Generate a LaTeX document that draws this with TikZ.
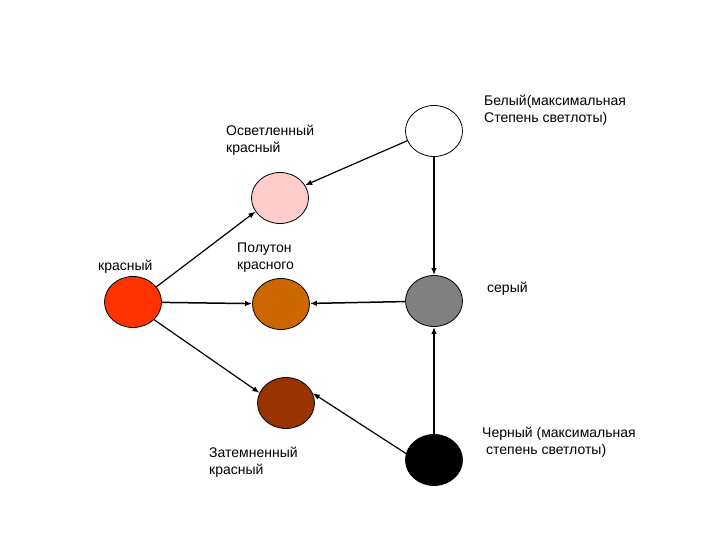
\documentclass[tikz,border=0pt]{standalone}
\usepackage{fontspec}
\setmainfont{Liberation Sans}
\usetikzlibrary{shapes.geometric,arrows.meta}
\definecolor{cpink}{HTML}{FFCCCC}
\definecolor{cred}{HTML}{FF3300}
\definecolor{corange}{HTML}{CC6600}
\definecolor{cgray}{HTML}{808080}
\definecolor{cbrown}{HTML}{993300}
\tikzset{
  dot/.style={ellipse,draw=black,line width=0.8pt,minimum width=57pt,minimum height=51pt,inner sep=0pt},
  arr/.style={line width=1.5pt,-{Latex[length=7pt,width=5.5pt]}},
  arrthin/.style={line width=1.2pt,-{Latex[length=7pt,width=5.5pt]}},
  lbl/.style={anchor=north west,align=left,inner sep=0pt,font=\fontsize{14}{16.5}\selectfont},
  lblb/.style={anchor=base west,inner sep=0pt,font=\fontsize{14}{16.5}\selectfont}
}
\begin{document}
\begin{tikzpicture}[x=1pt,y=-1pt]
\useasboundingbox[fill=white] (0,0) rectangle (720,540);
\node[dot,fill=white] (white) at (434,131) {};
\node[dot,fill=cpink] (pink) at (280,198) {};
\node[dot,fill=cred] (red) at (133,302) {};
\node[dot,fill=corange] (orange) at (281,304) {};
\node[dot,fill=cgray] (gray) at (434,301) {};
\node[dot,fill=cbrown] (brown) at (286,403) {};
\node[dot,fill=black] (black) at (434,460) {};

\draw[arrthin] (white.200) -- (pink.27);
\draw[arr] (white) -- (gray);
\draw[arr] (black) -- (gray);
\draw[arr] (gray) -- (orange);
\draw[arr] (red) -- (orange);
\draw[arrthin] (red.33) -- (pink.209);
\draw[arrthin] (red.320) -- (brown.159);
\draw[arrthin] (black.167) -- (brown.20);

\node[lbl] (t1) at (226,125) {Осветленный\\красный};
\node[lblb] (t2) at (98,270) {красный};
\node[lbl] (t3) at (237,243) {Полутон\\красного};
\node[lbl] (t4) at (484,95) {Белый(максимальная\\Степень светлоты)};
\node[lblb] (t5) at (487,292) {серый};
\node[lbl] (t6) at (482,427) {Черный (максимальная\\\hspace*{4pt}степень светлоты)};
\node[lbl] (t7) at (209,447) {Затемненный\\красный};
\end{tikzpicture}
\end{document}
